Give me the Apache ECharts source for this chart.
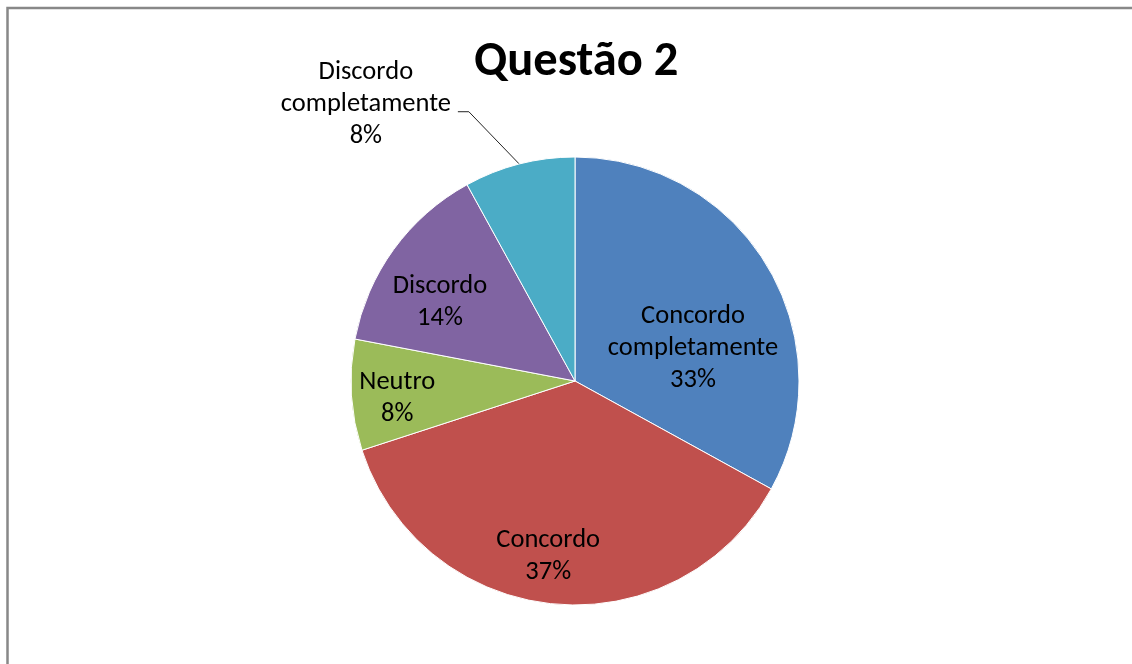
<!DOCTYPE html>
<html>
<head>
<meta charset="utf-8">
<script src="https://cdn.jsdelivr.net/npm/echarts@6/dist/echarts.min.js"></script>
<style>html,body{margin:0;padding:0;background:#fff}#c{width:1132px;height:664px}</style>
</head>
<body>
<div id="c"></div>
<script>
const titleText = 'Questão 2';
const categories = ['Concordo completamente', 'Concordo', 'Neutro', 'Discordo', 'Discordo completamente'];
const values = [33, 37, 8, 14, 8];
const colors = ['#4F81BD', '#C0504D', '#9BBB59', '#8064A2', '#4BACC6'];

const FONT = 'Carlito, Lato, sans-serif';
// label nudges relative to ECharts' default placement
const labelShift = [[19, 26], [-16, 61], [-63, 10], [-42, -11], [0, -7]];

const chart = echarts.init(document.getElementById('c'));
chart.setOption({
  backgroundColor: '#fff',
  animation: false,
  graphic: [{
    type: 'rect',
    shape: { x: 7.5, y: 8, width: 1300, height: 900 },
    style: { fill: 'none', stroke: '#888', lineWidth: 2.5 },
    silent: true
  }],
  title: {
    text: titleText,
    left: 474,
    top: 38,
    padding: 0,
    textStyle: { fontFamily: FONT, fontSize: 48.5, fontWeight: 'bold', color: '#000' }
  },
  series: [{
    type: 'pie',
    center: [575, 381],
    radius: 224,
    startAngle: 90,
    clockwise: true,
    avoidLabelOverlap: false,
    itemStyle: { borderColor: '#fff', borderWidth: 1 },
    label: {
      position: 'inside',
      fontFamily: FONT,
      fontSize: 26.5,
      lineHeight: 32,
      color: '#000',
      formatter: p => p.name.replace(' ', '\n') + '\n' + p.value + '%'
    },
    labelLine: { show: false },
    data: categories.map((name, i) => {
      const d = { name, value: values[i], itemStyle: { color: colors[i] } };
      if (i === 4) {
        d.label = {
          position: 'outside',
          formatter: '{a|Discordo}\n{a|completamente}\n{a|8%}',
          rich: { a: { fontFamily: FONT, fontSize: 26.5, lineHeight: 32, color: '#000', width: 172, align: 'center' } },
          distanceToLabelLine: 6
        };
        d.labelLine = { show: true, length: 54, length2: 48, lineStyle: { color: '#222', width: 1 } };
      }
      return d;
    }),
    labelLayout: function (params) {
      const i = params.dataIndex;
      const out = { dx: labelShift[i][0], dy: labelShift[i][1] };
      if (i === 4) {
        const pts = params.labelLinePoints;
        if (pts && pts.length === 3) {
          out.labelLinePoints = [pts[0], [pts[2][0] + 11, pts[2][1]], pts[2]];
        }
      }
      return out;
    }
  }]
});
</script>
</body>
</html>
